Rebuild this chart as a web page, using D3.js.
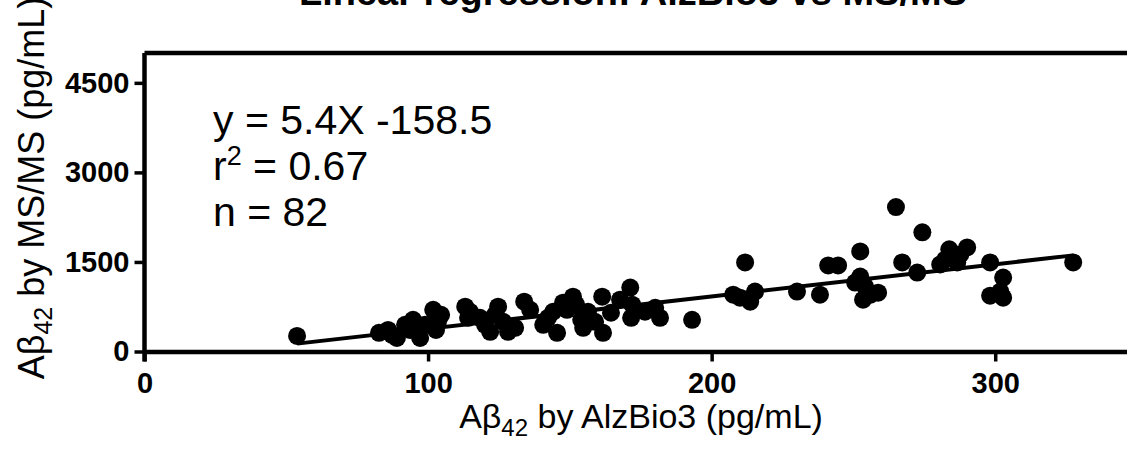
<!DOCTYPE html>
<html>
<head>
<meta charset="utf-8">
<script src="https://cdn.jsdelivr.net/npm/d3@7"></script>
<style>
  body { margin: 0; background: #fff; }
  text { font-family: Arial, "Liberation Sans", sans-serif; fill: #000; }
</style>
</head>
<body>
<div id="chart"></div>
<script>
// AlzBio3 (x) vs MS/MS (y), pg/mL
const alzBio3 = [53.8, 82.7, 85.9, 89.0, 91.9, 94.7, 97.2, 101.8, 103.5, 102.8,
  113.1, 114.1, 118.3, 121.9, 124.7, 126.5, 128.2, 133.9, 140.6, 144.1,
  145.5, 147.6, 151.1, 152.2, 154.0, 154.7, 161.4, 161.7, 164.5, 171.3,
  171.6, 172.0, 180.1, 181.8, 193.1, 207.6, 211.8, 213.6, 215.3, 230.1,
  238.2, 241.1, 244.6, 252.4, 252.4, 253.4, 254.1, 258.7, 265.0, 267.2,
  272.5, 274.3, 280.6, 283.8, 286.6, 290.1, 298.2, 302.8, 298.2, 302.8,
  327.5, 87.3, 93.6, 98.9, 104.6, 114.8, 120.1, 123.6, 130.7, 136.0,
  142.3, 149.0, 156.4, 158.9, 167.7, 176.5, 210.0, 250.6, 256.0, 282.4,
  287.7, 301.8];
const msms = [261, 312, 362, 228, 447, 531, 228, 699, 497, 362,
  750, 565, 565, 329, 750, 497, 329, 834, 447, 666,
  312, 817, 919, 784, 531, 396, 919, 312, 649, 1070,
  565, 784, 733, 565, 531, 952, 1492, 834, 1003, 1003,
  952, 1441, 1441, 1677, 1256, 868, 1087, 986, 2419, 1492,
  1323, 1997, 1458, 1711, 1492, 1744, 1492, 1239, 935, 902,
  1492, 278, 362, 447, 615, 666, 447, 615, 396, 699,
  565, 699, 666, 497, 868, 666, 902, 1154, 952, 1542,
  1626, 1003];

const slope = 5.4, intercept = -158.5;
const xTicks = [0, 100, 200, 300];
const yTicks = [0, 1500, 3000, 4500];
const statLines = ["y = 5.4X -158.5", "r", "n = 82"];

const width = 1127, height = 457;
const margin = {top: 53, right: -10, bottom: 105.5, left: 144.5};

const svg = d3.select("#chart").append("svg")
    .attr("width", width)
    .attr("height", height);

const x = d3.scaleLinear()
    .domain([0, 350])
    .range([margin.left, width - margin.right]);

const y = d3.scaleLinear()
    .domain([0, 5000])
    .range([height - margin.bottom, margin.top]);

// frame top line
svg.append("line")
    .attr("x1", x(0)).attr("x2", x(350))
    .attr("y1", y(5000)).attr("y2", y(5000))
    .attr("stroke", "#000").attr("stroke-width", 4.5);

// axes
const xAxis = svg.append("g")
    .attr("transform", "translate(0," + y(0) + ")")
    .call(d3.axisBottom(x).tickValues(xTicks).tickFormat(d3.format("d"))
        .tickSize(10).tickSizeOuter(0).tickPadding(11));
const yAxis = svg.append("g")
    .attr("transform", "translate(" + x(0) + ",0)")
    .call(d3.axisLeft(y).tickValues(yTicks).tickFormat(d3.format("d"))
        .tickSize(10).tickSizeOuter(0).tickPadding(5));

[xAxis, yAxis].forEach(g => {
    g.select(".domain").attr("stroke-width", 4.5).attr("stroke", "#000");
    g.selectAll(".tick line").attr("stroke-width", 3.5).attr("stroke", "#000");
    g.selectAll(".tick text")
        .style("font-size", "29px")
        .style("font-weight", "bold")
        .style("font-family", "Arial, 'Liberation Sans', sans-serif");
});
// y axis continues down through the 0 tick
yAxis.select(".domain").attr("d", "M0," + y(5000) + "V" + (y(0) + 10));

// regression line
const xs = d3.extent(alzBio3);
svg.append("line")
    .attr("x1", x(xs[0])).attr("y1", y(slope * xs[0] + intercept))
    .attr("x2", x(xs[1])).attr("y2", y(slope * xs[1] + intercept))
    .attr("stroke", "#000").attr("stroke-width", 4);

// points
svg.append("g")
    .selectAll("circle")
    .data(alzBio3.map((d, i) => [d, msms[i]]))
    .enter()
    .append("circle")
    .attr("cx", d => x(d[0]))
    .attr("cy", d => y(d[1]))
    .attr("r", 9)
    .attr("fill", "#000");

// stats text
const stats = svg.append("g").style("font-size", "41px");
stats.append("text").attr("x", 213).attr("y", 134).text(statLines[0]);
const r2 = stats.append("text").attr("x", 213).attr("y", 180);
r2.append("tspan").text(statLines[1]);
r2.append("tspan").attr("dy", -15).style("font-size", "27px").text("2");
r2.append("tspan").attr("dy", 15).text(" = 0.67");
stats.append("text").attr("x", 213).attr("y", 226).text(statLines[2]);

// title (cut off by the top edge)
svg.append("text")
    .attr("x", 633).attr("y", 5)
    .attr("text-anchor", "middle")
    .style("font-size", "38px").style("font-weight", "bold")
    .text("Linear regression: AlzBio3 vs MS/MS");

// x label
const xl = svg.append("text")
    .attr("x", 641).attr("y", 428)
    .attr("text-anchor", "middle")
    .style("font-size", "34px");
xl.append("tspan").text("A\u03b2");
xl.append("tspan").attr("dy", 8).style("font-size", "24px").text("42");
xl.append("tspan").attr("dy", -8).text(" by AlzBio3 (pg/mL)");

// y label
const yl = svg.append("text")
    .attr("transform", "translate(44,188) rotate(-90)")
    .attr("text-anchor", "middle")
    .style("font-size", "36px");
yl.append("tspan").text("A\u03b2");
yl.append("tspan").attr("dy", 8).style("font-size", "25px").text("42");
yl.append("tspan").attr("dy", -8).text(" by MS/MS (pg/mL)");
</script>
</body>
</html>
